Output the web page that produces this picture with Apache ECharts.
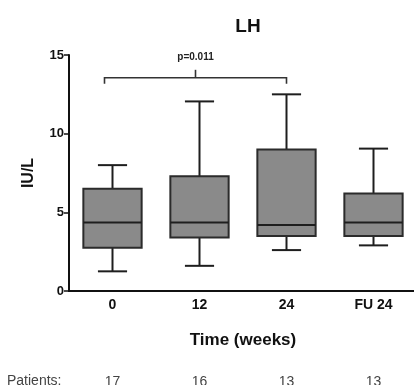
<!DOCTYPE html>
<html>
<head>
<meta charset="utf-8">
<style>
  html, body { margin: 0; padding: 0; background: #fff; }
  #chart { width: 414px; height: 385px; }
</style>
<script src="https://cdn.jsdelivr.net/npm/echarts@6/dist/echarts.min.js"></script>
</head>
<body>
<div id="chart"></div>
<script>
// LH levels over time (IU/L): box = quartiles, whiskers = min/max
const categories = ['0', '12', '24', 'FU 24'];
const whiskerLow = [1.25, 1.6, 2.6, 2.9];
const q1 = [2.75, 3.4, 3.5, 3.5];
const median = [4.35, 4.35, 4.2, 4.35];
const q3 = [6.5, 7.3, 9.0, 6.2];
const whiskerHigh = [8.0, 12.05, 12.5, 9.05];
const patients = ['17', '16', '13', '13'];
const yTicks = [0, 5, 10, 15];

// significance bracket between week 0 and week 24
const bracketFrom = 0;
const bracketTo = 2;
const bracketLevel = 13.55;
const bracketLabel = 'p=0.011';

const boxData = categories.map((c, i) => [i, whiskerLow[i], q1[i], median[i], q3[i], whiskerHigh[i]]);

const font = '"Liberation Sans", Arial, sans-serif';
const ink = '#1e1e1e';

function renderBox(params, api) {
  const i = api.value(0);
  const band = api.size([1, 0])[0];
  const boxW = band * 0.67;
  const capW = boxW * 0.5;
  const pLow = api.coord([i, api.value(1)]);
  const pQ1 = api.coord([i, api.value(2)]);
  const pMed = api.coord([i, api.value(3)]);
  const pQ3 = api.coord([i, api.value(4)]);
  const pHigh = api.coord([i, api.value(5)]);
  const x = pMed[0];
  const lineStyle = { stroke: ink, lineWidth: 2 };
  return {
    type: 'group',
    children: [
      { type: 'line', shape: { x1: x, y1: pQ3[1], x2: x, y2: pHigh[1] }, style: lineStyle },
      { type: 'line', shape: { x1: x - capW / 2, y1: pHigh[1], x2: x + capW / 2, y2: pHigh[1] }, style: lineStyle },
      { type: 'line', shape: { x1: x, y1: pQ1[1], x2: x, y2: pLow[1] }, style: lineStyle },
      { type: 'line', shape: { x1: x - capW / 2, y1: pLow[1], x2: x + capW / 2, y2: pLow[1] }, style: lineStyle },
      { type: 'rect', shape: { x: x - boxW / 2, y: pQ3[1], width: boxW, height: pQ1[1] - pQ3[1] },
        style: { fill: '#8a8a8a', stroke: '#2b2b2b', lineWidth: 2 } },
      { type: 'line', shape: { x1: x - boxW / 2, y1: pMed[1], x2: x + boxW / 2, y2: pMed[1] }, style: lineStyle }
    ]
  };
}

function renderBracket(params, api) {
  const a = api.coord([api.value(0), api.value(2)]);
  const b = api.coord([api.value(1), api.value(2)]);
  const x1 = a[0] - 8, x2 = b[0], y = a[1];
  const mid = (x1 + x2) / 2;
  const st = { stroke: '#333', lineWidth: 1.6 };
  return {
    type: 'group',
    children: [
      { type: 'polyline', shape: { points: [[x1, y + 6], [x1, y], [x2, y], [x2, y + 6]] }, style: Object.assign({ fill: 'none' }, st) },
      { type: 'line', shape: { x1: mid, y1: y, x2: mid, y2: y - 8 }, style: st },
      { type: 'text', x: mid, y: y - 21, style: { text: bracketLabel, fill: '#222', font: 'bold 10px ' + font, align: 'center', verticalAlign: 'middle' } }
    ]
  };
}

const chart = echarts.init(document.getElementById('chart'));
chart.setOption({
  animation: false,
  backgroundColor: '#fff',
  title: {
    text: 'LH', left: 243, top: 12, textAlign: 'center',
    textStyle: { fontFamily: font, fontSize: 19, fontWeight: 'bold', color: '#111' }
  },
  grid: { left: 69, top: 55, width: 348, bottom: 94, containLabel: false, outerBoundsMode: 'none' },
  xAxis: [{
    type: 'category', data: categories, boundaryGap: true,
    axisLine: { lineStyle: { color: '#111', width: 2 } },
    axisTick: { alignWithLabel: true, length: 4, lineStyle: { color: '#111', width: 1.5 } },
    axisLabel: { margin: 7, fontFamily: font, fontSize: 14, fontWeight: 'bold', color: '#111' },
    name: 'Time (weeks)', nameLocation: 'middle', nameGap: 41,
    nameTextStyle: { fontFamily: font, fontSize: 17, fontWeight: 'bold', color: '#111' }
  }, {
    type: 'category', data: patients, position: 'bottom', offset: 78,
    axisLine: { show: false }, axisTick: { show: false },
    axisLabel: { margin: 6, fontFamily: font, fontSize: 14, color: '#444' }
  }],
  yAxis: {
    type: 'value', min: yTicks[0], max: yTicks[yTicks.length - 1], interval: 5,
    axisLine: { show: true, lineStyle: { color: '#111', width: 2 } },
    axisTick: { show: true, length: 5, lineStyle: { color: '#111', width: 1.5 } },
    axisLabel: { margin: 5, fontFamily: font, fontSize: 13, fontWeight: 'bold', color: '#111' },
    splitLine: { show: false },
    name: 'IU/L', nameLocation: 'middle', nameGap: 32, nameRotate: 90,
    nameTextStyle: { fontFamily: font, fontSize: 16, fontWeight: 'bold', color: '#111' }
  },
  graphic: [{
    type: 'text', x: 7, y: 381,
    style: { text: 'Patients:', fill: '#444', font: '14px ' + font, verticalAlign: 'middle' }
  }],
  series: [{
    type: 'custom', renderItem: renderBox, data: boxData,
    encode: { x: 0, y: [1, 2, 3, 4, 5] }, z: 3
  }, {
    type: 'custom', renderItem: renderBracket,
    data: [[bracketFrom, bracketTo, bracketLevel]],
    encode: { x: [0, 1], y: 2 }, z: 4
  }]
});
</script>
</body>
</html>
